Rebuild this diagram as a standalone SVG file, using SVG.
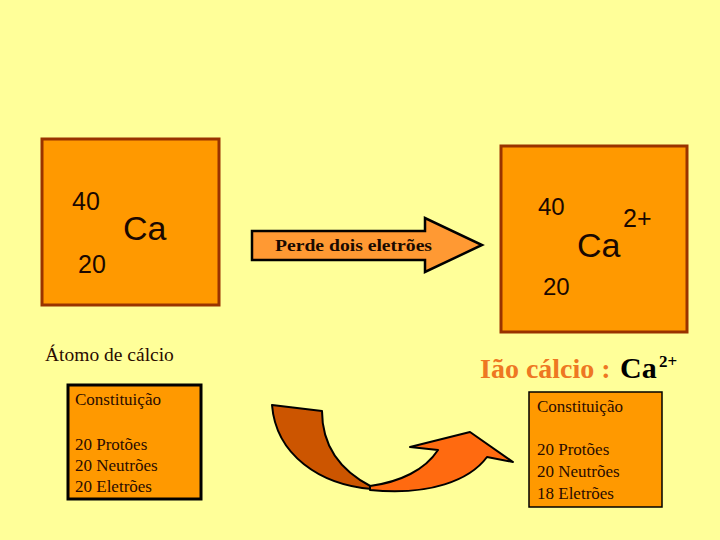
<svg xmlns="http://www.w3.org/2000/svg" width="720" height="540" viewBox="0 0 720 540">
<style>
.box{fill:#FF9900;stroke:#993300;stroke-width:3}
.cbox{fill:#FF9900;stroke:#000;}
.sym{font-family:"Liberation Sans",Arial,sans-serif;fill:#1a0800}
.ser{font-family:"Liberation Serif","Times New Roman",serif;fill:#2a0c00}
</style>
<rect width="720" height="540" fill="#FFFF99"/>
<g id="atom">
<rect class="box" x="42" y="139" width="177" height="166"/>
<text class="sym" x="72" y="210" font-size="25">40</text>
<text class="sym" x="123" y="240" font-size="34">Ca</text>
<text class="sym" x="78" y="273" font-size="25">20</text>
</g>
<g id="ion">
<rect class="box" x="501" y="146" width="186" height="186"/>
<text class="sym" x="538" y="215" font-size="24">40</text>
<text class="sym" x="623" y="227" font-size="25">2+</text>
<text class="sym" x="577" y="257" font-size="34">Ca</text>
<text class="sym" x="543" y="295" font-size="24">20</text>
</g>
<g id="atom-label">
<text class="ser" x="45" y="361" font-size="19.5" fill="#000">Átomo de cálcio</text>
</g>
<g id="ion-label" font-family="'Liberation Serif','Times New Roman',serif" font-weight="bold">
<text x="480" y="378" font-size="28" fill="#EE7722">Ião cálcio :</text>
<text x="620" y="378" font-size="30" fill="#000">Ca</text>
<text x="659" y="367" font-size="17" fill="#000">2+</text>
</g>
<g id="atom-const">
<rect class="cbox" stroke-width="3" x="68" y="385" width="133" height="114"/>
<text class="ser" x="75" y="405" font-size="17">Constituição</text>
<text class="ser" x="75" y="450" font-size="17">20 Protões</text>
<text class="ser" x="75" y="471" font-size="17">20 Neutrões</text>
<text class="ser" x="75" y="492" font-size="17">20 Eletrões</text>
</g>
<g id="ion-const">
<rect class="cbox" stroke-width="1.5" x="529" y="392" width="133" height="115"/>
<text class="ser" x="537" y="412" font-size="17">Constituição</text>
<text class="ser" x="537" y="455" font-size="17">20 Protões</text>
<text class="ser" x="537" y="477" font-size="17">20 Neutrões</text>
<text class="ser" x="537" y="499" font-size="17">18 Eletrões</text>
</g>
<g id="connectors">
<g id="arrow-lose">
<polygon points="252,231 425,231 425,218 482,245 425,272 425,260 252,260" fill="#FF9933" stroke="#000" stroke-width="2.5" stroke-linejoin="miter"/>
<text x="275" y="251" font-family="'Liberation Serif','Times New Roman',serif" font-weight="bold" font-size="17" fill="#1a0a00" textLength="157" lengthAdjust="spacingAndGlyphs">Perde dois eletrões</text>
</g>
<g id="curved-arrow" stroke="#000" stroke-width="2" stroke-linejoin="round">
<path d="M272,405 L322,411 C322,440 335,468 372,487 L372,489 C320,485 276,455 272,405 Z" fill="#CC5500"/>
<path d="M370,486 C400,482 425,470 438,450 L410,447 L470,432 L513,462 L487,457 C470,480 430,496 370,490 Z" fill="#FF6A10"/>
</g>
</g>
</svg>
